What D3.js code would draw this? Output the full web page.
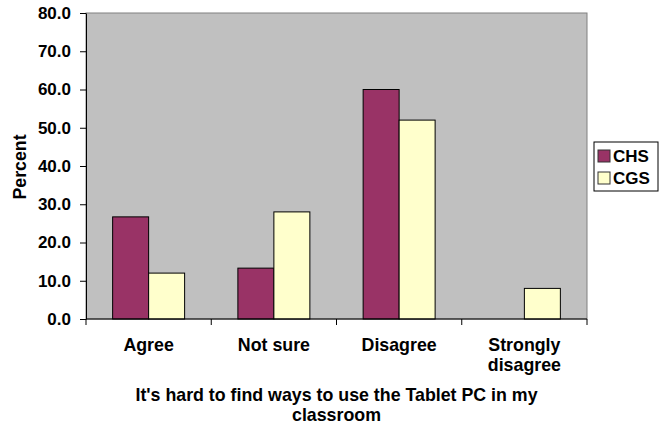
<!DOCTYPE html>
<html>
<head>
<meta charset="utf-8">
<script src="https://d3js.org/d3.v7.min.js"></script>
<style>
body { margin: 0; background: #fff; }
text { font-family: Arial, "Liberation Sans", sans-serif; font-weight: bold; }
</style>
</head>
<body>
<div id="chart"></div>
<script>
let categories = [["Agree"], ["Not sure"], ["Disagree"], ["Strongly", "disagree"]];
let series_names = ["CHS", "CGS"];
let chs_values = [26.7, 13.3, 60.0, 0.0];
let cgs_values = [12.0, 28.0, 52.0, 8.0];
let y_ticks = [0, 10, 20, 30, 40, 50, 60, 70, 80];
let series_colors = ["#993366", "#FFFFCC"];
let title_lines = ["It's hard to find ways to use the Tablet PC in my", "classroom"];

let chart_width = 668;
let chart_height = 428;

let margin_top = 13;
let margin_left = 86;
let plot_w = 501;
let plot_h = 306;
let font_size = "17px";
let label_size = "17.8px";

let svg = d3.select("#chart")
            .append("svg")
            .attr("width", chart_width)
            .attr("height", chart_height);

let g = svg.append("g")
           .attr("transform", "translate(" + margin_left + "," + margin_top + ")");

let cat_keys = categories.map(function(d) { return d.join(" "); });

let x0 = d3.scaleBand()
           .domain(cat_keys)
           .range([0, plot_w])
           .padding(0);

let x1 = d3.scaleBand()
           .domain(series_names)
           .range([0, x0.bandwidth()])
           .paddingInner(0)
           .paddingOuter(0.74);

let yScale = d3.scaleLinear()
               .domain([0, 80])
               .range([plot_h, 0]);

// plot background
g.append("rect")
 .attr("x", 0).attr("y", 0)
 .attr("width", plot_w).attr("height", plot_h)
 .attr("fill", "#C0C0C0")
 .attr("stroke", "#808080")
 .attr("stroke-width", 1);

let bar_data = [];
cat_keys.forEach(function(c, i) {
    bar_data.push({ cat: c, s: "CHS", v: chs_values[i], color: series_colors[0] });
    bar_data.push({ cat: c, s: "CGS", v: cgs_values[i], color: series_colors[1] });
});

g.selectAll(".bar")
 .data(bar_data.filter(function(d) { return d.v > 0; }))
 .enter()
 .append("rect")
 .attr("class", "bar")
 .attr("x", function(d) { return x0(d.cat) + x1(d.s); })
 .attr("y", function(d) { return yScale(d.v); })
 .attr("width", x1.bandwidth())
 .attr("height", function(d) { return plot_h - yScale(d.v); })
 .attr("fill", function(d) { return d.color; })
 .attr("stroke", "#000")
 .attr("stroke-width", 1);

// y axis
let y_axis = g.append("g")
              .attr("class", "y axis")
              .call(d3.axisLeft(yScale).tickValues(y_ticks).tickSize(6).tickSizeOuter(0)
                    .tickFormat(d3.format(".1f")));
y_axis.select(".domain").attr("stroke", "#000");
y_axis.selectAll("text")
      .attr("x", -15)
      .style("font-size", font_size)
      .style("font-family", "Arial, 'Liberation Sans', sans-serif")
      .style("font-weight", "bold")
      .attr("fill", "#000");

// x axis line and ticks at category boundaries
let x_axis = g.append("g")
              .attr("class", "x axis")
              .attr("transform", "translate(0," + plot_h + ")");
x_axis.append("line")
      .attr("x1", 0).attr("x2", plot_w)
      .attr("y1", 0).attr("y2", 0)
      .attr("stroke", "#000");
let bounds = cat_keys.map(function(c) { return x0(c); }).concat([plot_w]);
x_axis.selectAll(".xtick")
      .data(bounds)
      .enter()
      .append("line")
      .attr("x1", function(d) { return d; })
      .attr("x2", function(d) { return d; })
      .attr("y1", 0).attr("y2", 6)
      .attr("stroke", "#000");

categories.forEach(function(lines, i) {
    let t = x_axis.append("text")
                  .attr("text-anchor", "middle")
                  .attr("x", x0(cat_keys[i]) + x0.bandwidth() / 2)
                  .attr("y", 31.5)
                  .style("font-size", label_size)
                  .attr("fill", "#000");
    lines.forEach(function(l, j) {
        t.append("tspan")
         .attr("x", x0(cat_keys[i]) + x0.bandwidth() / 2)
         .attr("dy", j == 0 ? 0 : 20)
         .text(l);
    });
});

// axis titles
svg.append("text")
   .attr("transform", "translate(26," + (margin_top + plot_h / 2 + 1) + ") rotate(-90)")
   .attr("text-anchor", "middle")
   .style("font-size", label_size)
   .text("Percent");

let title = svg.append("text")
               .attr("text-anchor", "middle")
               .attr("x", margin_left + plot_w / 2)
               .attr("y", 401)
               .style("font-size", label_size);
title_lines.forEach(function(l, j) {
    title.append("tspan")
         .attr("x", margin_left + plot_w / 2)
         .attr("dy", j == 0 ? 0 : 19.5)
         .text(l);
});

// legend
let legend = svg.append("g").attr("transform", "translate(594,142)");
legend.append("rect")
      .attr("x", 0).attr("y", 0)
      .attr("width", 64).attr("height", 49)
      .attr("fill", "#fff")
      .attr("stroke", "#000");
series_names.forEach(function(s, i) {
    legend.append("rect")
          .attr("x", 4).attr("y", 8 + i * 22)
          .attr("width", 12).attr("height", 12)
          .attr("fill", series_colors[i])
          .attr("stroke", "#333");
    legend.append("text")
          .attr("x", 19).attr("y", 19.5 + i * 22)
          .style("font-size", font_size)
          .text(s);
});
</script>
</body>
</html>
